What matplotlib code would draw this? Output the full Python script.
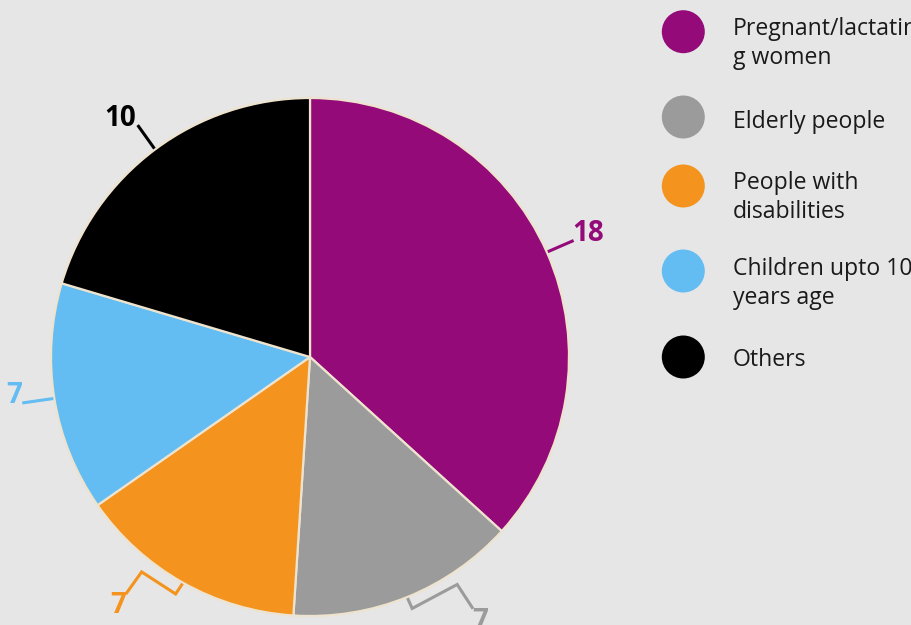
import matplotlib
matplotlib.use("Agg")
import matplotlib.pyplot as plt
import numpy as np
from matplotlib.patches import Circle

# data
categories = ["Pregnant/lactatin\ng women", "Elderly people", "People with\ndisabilities",
              "Children upto 10\nyears age", "Others"]
values = [18, 7, 7, 7, 10]
colors = ["#940a79", "#9b9b9b", "#f4931d", "#63bdf2", "#000000"]

W, H = 912, 625
BG = "#e6e6e6"
CX, CY, R = 310, H - 357, 259

# leader paths as pixel offsets (x right, y down) from the wedge edge point,
# plus where the label sits and how it is aligned
leaders = [
    ([(0, 0), (23, -10)], (23, -10), "left", "baseline"),
    ([(0, 0), (4, 9), (49, -15), (64, 8)], (64, 8), "left", "top"),
    ([(0, 0), (-6, 9), (-40, -13), (-55, 8)], (-56, 6), "right", "top"),
    ([(0, 0), (-28, 4)], (-30, 4), "right", "baseline"),
    ([(0, 0), (-15, -21)], (-17, -21), "right", "baseline"),
]

plt.rcParams["font.family"] = ["Open Sans", "DejaVu Sans"]

fig = plt.figure(figsize=(W / 100, H / 100), dpi=100, facecolor=BG)
ax = fig.add_axes([0, 0, 1, 1])
ax.set_facecolor(BG)

wedges, _ = ax.pie(values, colors=colors, startangle=90, counterclock=False,
                   center=(CX, CY), radius=R,
                   wedgeprops=dict(edgecolor="#eee3ce", linewidth=1.6))

for w, val, col, (path, lab, ha, va) in zip(wedges, values, colors, leaders):
    mid = np.deg2rad((w.theta1 + w.theta2) / 2)
    ax0 = CX + R * 1.01 * np.cos(mid)
    ay0 = CY + R * 1.01 * np.sin(mid)
    xs = [ax0 + dx for dx, dy in path]
    ys = [ay0 - dy for dx, dy in path]
    ax.plot(xs, ys, color=col, lw=2.2, solid_joinstyle="miter", clip_on=False)
    ax.text(ax0 + lab[0], ay0 - lab[1], str(val), color=col, fontsize=20,
            fontweight="bold", ha=ha, va=va)

# legend drawn by hand
circle_y = [31.7, 117, 186, 271, 357]
text_base = [35, 128, 189, 275, 366]
for name, col, cy, tb in zip(categories, colors, circle_y, text_base):
    ax.add_patch(Circle((683.3, H - cy), 21.5, color=col, lw=0))
    for k, line in enumerate(name.split("\n")):
        ax.text(733, H - (tb + k * 28.5), line, fontsize=16.6, color="#1a1a1a",
                ha="left", va="baseline")

ax.set_xlim(0, W)
ax.set_ylim(0, H)
ax.set_aspect("equal")
ax.axis("off")

fig.savefig("out.png", dpi=100, facecolor=BG)
